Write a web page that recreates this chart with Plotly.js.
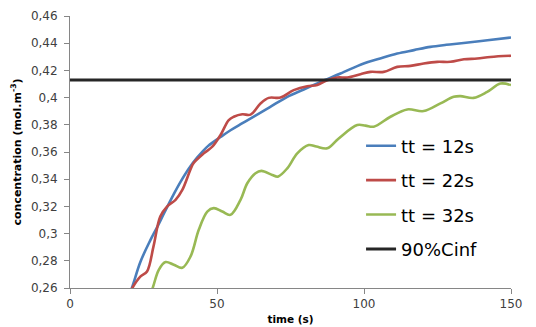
<!DOCTYPE html>
<html>
<head>
<meta charset="utf-8">
<script src="https://cdn.plot.ly/plotly-3.0.1.min.js"></script>
<style>html,body{margin:0;padding:0;background:#fff;}#chart{width:536px;height:327px;}</style>
</head>
<body>
<div id="chart"></div>
<script>
// Series names
const seriesNames = ["tt = 12s", "tt = 22s", "tt = 32s", "90%Cinf"];

// tt = 12s (blue)
const blueT = [18, 21.2, 23.9, 27.3, 29.7, 32, 35.3, 37.6, 40.5, 43.3, 47, 51.2, 54.6, 58.5, 62.5, 68, 73.9, 79.5, 85.2, 92, 99.9, 105.5, 111.3, 117, 122.6, 128, 133.9, 142, 150];
const blueV = [0.242, 0.261, 0.279, 0.295, 0.305, 0.315, 0.329, 0.338, 0.348, 0.356, 0.3645, 0.371, 0.376, 0.381, 0.386, 0.393, 0.4006, 0.406, 0.4116, 0.4177, 0.4251, 0.4288, 0.4324, 0.4349, 0.4373, 0.4388, 0.4402, 0.4422, 0.4442];

// tt = 22s (red)
const redT = [19, 21.2, 24, 26.2, 28.4, 30.7, 33, 35.9, 38.2, 40.9, 42, 45.5, 48.4, 51.2, 54, 55.7, 58.6, 61.4, 64.8, 67.6, 71.6, 76.1, 80.7, 84.1, 87.5, 90.9, 94.3, 98.8, 102.2, 106.7, 111.3, 115.8, 120.3, 124.9, 129.4, 134, 138.5, 143, 150];
const redV = [0.250, 0.260, 0.2685, 0.2722, 0.2906, 0.3126, 0.3199, 0.3248, 0.3321, 0.3467, 0.3517, 0.359, 0.3639, 0.3725, 0.3835, 0.3859, 0.3877, 0.3875, 0.3957, 0.3998, 0.4000, 0.4055, 0.4084, 0.4092, 0.4128, 0.4148, 0.4148, 0.4172, 0.4189, 0.4189, 0.4226, 0.4233, 0.4251, 0.4263, 0.4263, 0.4282, 0.4287, 0.4299, 0.4308];

// tt = 32s (green)
const greenT = [26, 28.3, 30.2, 32.5, 35.3, 38.2, 41, 43.8, 46.7, 48.9, 51.8, 54.6, 58, 60.3, 63.1, 65.1, 68.8, 70.7, 73.9, 77.3, 81.2, 83.8, 87.5, 91.4, 97.7, 100.5, 103.3, 109, 114.7, 120.3, 126, 130.5, 132.8, 137.3, 141.9, 146.4, 150];
const greenV = [0.246, 0.2612, 0.2734, 0.2791, 0.2771, 0.2749, 0.2832, 0.3028, 0.3162, 0.3187, 0.3162, 0.3138, 0.3248, 0.3370, 0.3444, 0.3461, 0.3431, 0.3419, 0.3480, 0.3590, 0.3651, 0.3640, 0.3627, 0.3700, 0.3798, 0.3794, 0.3786, 0.3859, 0.3913, 0.3901, 0.3957, 0.4006, 0.4011, 0.3998, 0.4042, 0.4103, 0.4092];

// 90%Cinf (black)
const cinfT = [0, 150];
const cinfV = [0.413, 0.413];

// Axis ticks
const xTickVals = [0, 50, 100, 150];
const xTickText = ["0", "50", "100", "150"];
const yTickVals = [0.26, 0.28, 0.30, 0.32, 0.34, 0.36, 0.38, 0.40, 0.42, 0.44, 0.46];
const yTickText = ["0,26", "0,28", "0,3", "0,32", "0,34", "0,36", "0,38", "0,4", "0,42", "0,44", "0,46"];

const FONT = "DejaVu Sans, sans-serif";

function tr(x, y, name, color, w, grp) {
  return {
    x: x, y: y, name: name, type: "scatter", mode: "lines",
    line: {color: color, width: w, shape: "spline", smoothing: 1},
    legendgroup: grp, hoverinfo: "skip"
  };
}

const data = [
  tr(blueT, blueV, seriesNames[0], "#4a7ebb", 2.6, "a"),
  tr(redT, redV, seriesNames[1], "#be4b48", 2.6, "b"),
  tr(greenT, greenV, seriesNames[2], "#98b954", 2.6, "c"),
  tr(cinfT, cinfV, seriesNames[3], "#262626", 3, "d")
];

const axisCommon = {
  showgrid: false, zeroline: false, showline: true,
  linecolor: "#868686", linewidth: 1,
  ticks: "outside", ticklen: 5, tickcolor: "#868686", tickwidth: 1,
  tickfont: {family: FONT, size: 12, color: "#404040"},
  fixedrange: true
};

const layout = {
  width: 536, height: 327,
  margin: {l: 70, r: 25, t: 16, b: 39},
  paper_bgcolor: "#ffffff", plot_bgcolor: "#ffffff",
  showlegend: true,
  legend: {
    x: 0.66, xanchor: "left", y: 0.59, yanchor: "top",
    font: {family: FONT, size: 18, color: "#000000"},
    bgcolor: "rgba(0,0,0,0)", tracegroupgap: 8, itemwidth: 30
  },
  xaxis: Object.assign({}, axisCommon, {
    range: [0, 150], tickvals: xTickVals, ticktext: xTickText,
    title: {text: "time (s)", font: {family: FONT, size: 10.5, color: "#000000", weight: "bold"}, standoff: 5}
  }),
  yaxis: Object.assign({}, axisCommon, {
    range: [0.26, 0.46], tickvals: yTickVals, ticktext: yTickText,
    ticklabelstandoff: 4,
    title: {text: "concentration (mol.m<sup>-3</sup>)", font: {family: FONT, size: 11, color: "#000000", weight: "bold"}, standoff: 7}
  })
};

Plotly.newPlot("chart", data, layout, {displayModeBar: false, staticPlot: true});
</script>
</body>
</html>
